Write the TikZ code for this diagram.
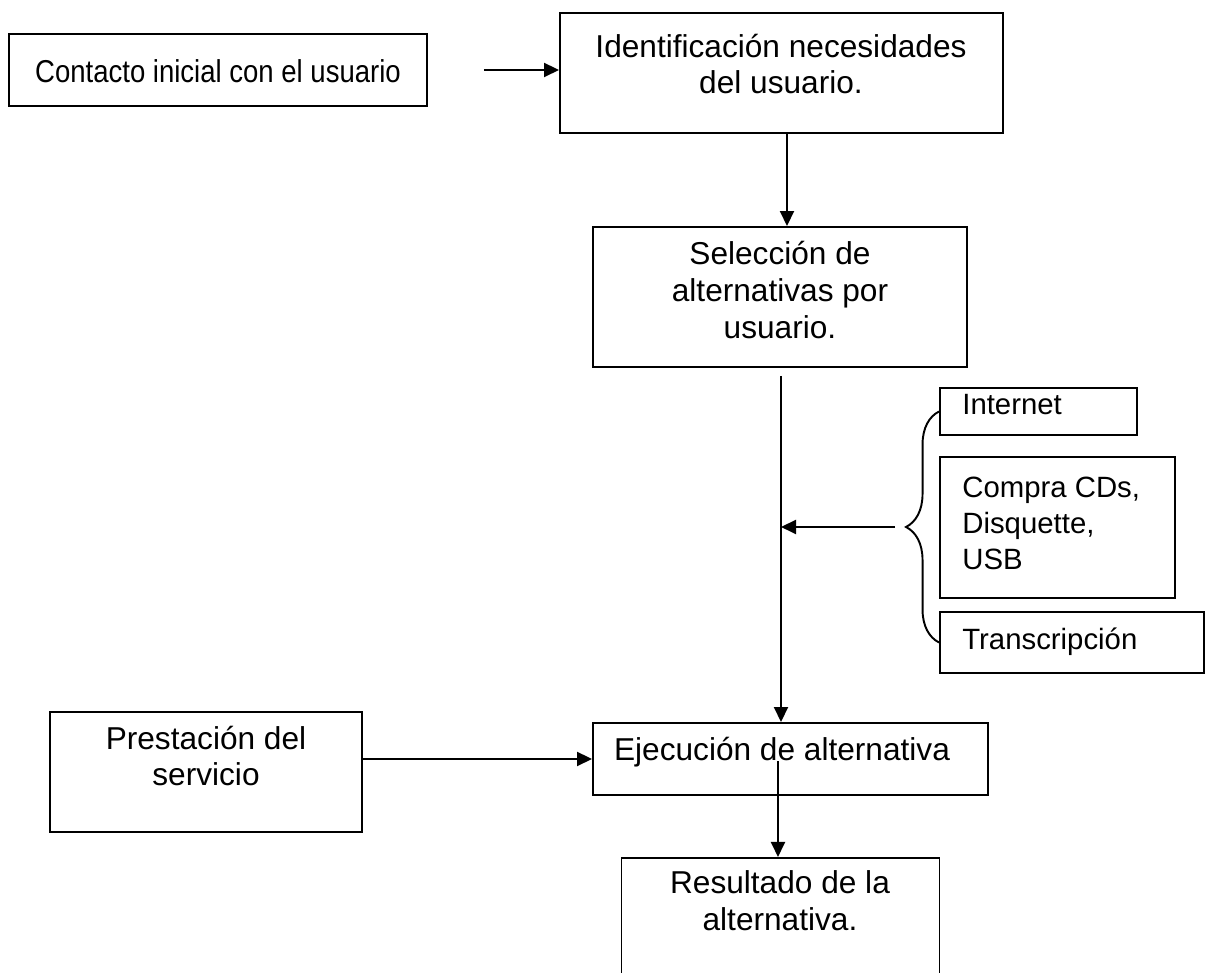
\documentclass[tikz,border=0pt]{standalone}
\usepackage{fontspec}
\usepackage{graphicx}
\setmainfont{Liberation Sans}
\usetikzlibrary{arrows.meta, decorations.pathreplacing, calc}

\begin{document}
\begin{tikzpicture}[caja/.style = {draw, line width = 1.1pt, minimum width = #1},
  texto/.style = {align = center, inner sep = 0pt, font = \fontsize{18pt}{21pt}\selectfont},
  textochico/.style = {anchor = west, align = left, inner sep = 0pt, font = \fontsize{16.7pt}{20.5pt}\selectfont},
  flecha/.style = {line width = 1.1pt, -{Triangle[length = 0.3cm, width = 0.28cm]}}]
%\draw [help lines] (0, 0) grid (24, 19);
\useasboundingbox (0, 0) rectangle (24.12, 19.46);
\clip (0, 0) rectangle (24.12, 19.46);
\node [caja = 8.36cm, minimum height = 1.44cm] (contacto) at (4.36, 18.06) {};
\node [caja = 8.86cm, minimum height = 2.4cm] (ident) at (15.63, 18.0) {};
\node [caja = 7.48cm, minimum height = 2.8cm] (selec) at (15.6, 13.52) {};
\node [caja = 3.94cm, minimum height = 0.94cm] (internet) at (20.77, 11.23) {};
\node [caja = 4.7cm, minimum height = 2.82cm] (compra) at (21.15, 8.91) {};
\node [caja = 5.28cm, minimum height = 1.22cm] (transc) at (21.44, 6.61) {};
\node [caja = 6.24cm, minimum height = 2.4cm] (prest) at (4.12, 4.02) {};
\node [caja = 7.9cm, minimum height = 1.44cm] (ejec) at (15.81, 4.28) {};
\node [caja = 6.36cm, minimum height = 3cm, anchor = north] (result) at (15.61, 2.32) {};
% textos
\node [texto] (tcontacto) at (4.36, 18.04) {\scalebox{0.87}[1]{Contacto inicial con el usuario}};
\node [texto] (tident) at (15.62, 18.18) {Identificación necesidades\\del usuario.};
\node [texto] (tselec) at (15.6, 13.66) {Selección de\\alternativas por\\usuario.};
\node [textochico] (tinternet) at (19.24, 11.36) {Internet};
\node [textochico] (tcompra) at (19.24, 8.99) {Compra CDs,\\Disquette,\\USB};
\node [textochico] (ttransc) at (19.24, 6.63) {Transcripción};
\node [texto] (tprest) at (4.12, 4.34) {Prestación del\\servicio};
\node [texto] (tejec) at (15.64, 4.42) {Ejecución de alternativa};
\node [texto] (tresult) at (15.6, 1.44) {Resultado de la\\alternativa.};
% llave y flechas
\draw [line width = 1.1pt, decorate, decoration = {brace, amplitude = 0.66cm}] (transc.west) -- (internet.west);
\coordinate (punta) at ([xshift = -0.66cm] $(transc.west)!0.5!(internet.west)$);
\coordinate (linea) at (15.62, 0);
\coordinate (linea2) at (15.56, 0);
\draw [flecha, shorten <= 1.12cm] (contacto.east) -- (contacto.east -| ident.west);
\draw [flecha] (ident.south -| 15.74, 0) -- (selec.north -| 15.74, 0);
\draw [flecha, shorten <= 0.16cm] (selec.south -| linea) -- (ejec.north -| linea);
\draw [flecha, shorten <= 0.22cm] (punta) -- (punta -| linea);
\draw [flecha] (ejec.west -| prest.east) -- (ejec.west);
\draw [flecha, shorten <= 0.78cm] (ejec.north -| linea2) -- (result.north -| linea2);
\end{tikzpicture}
\end{document}
